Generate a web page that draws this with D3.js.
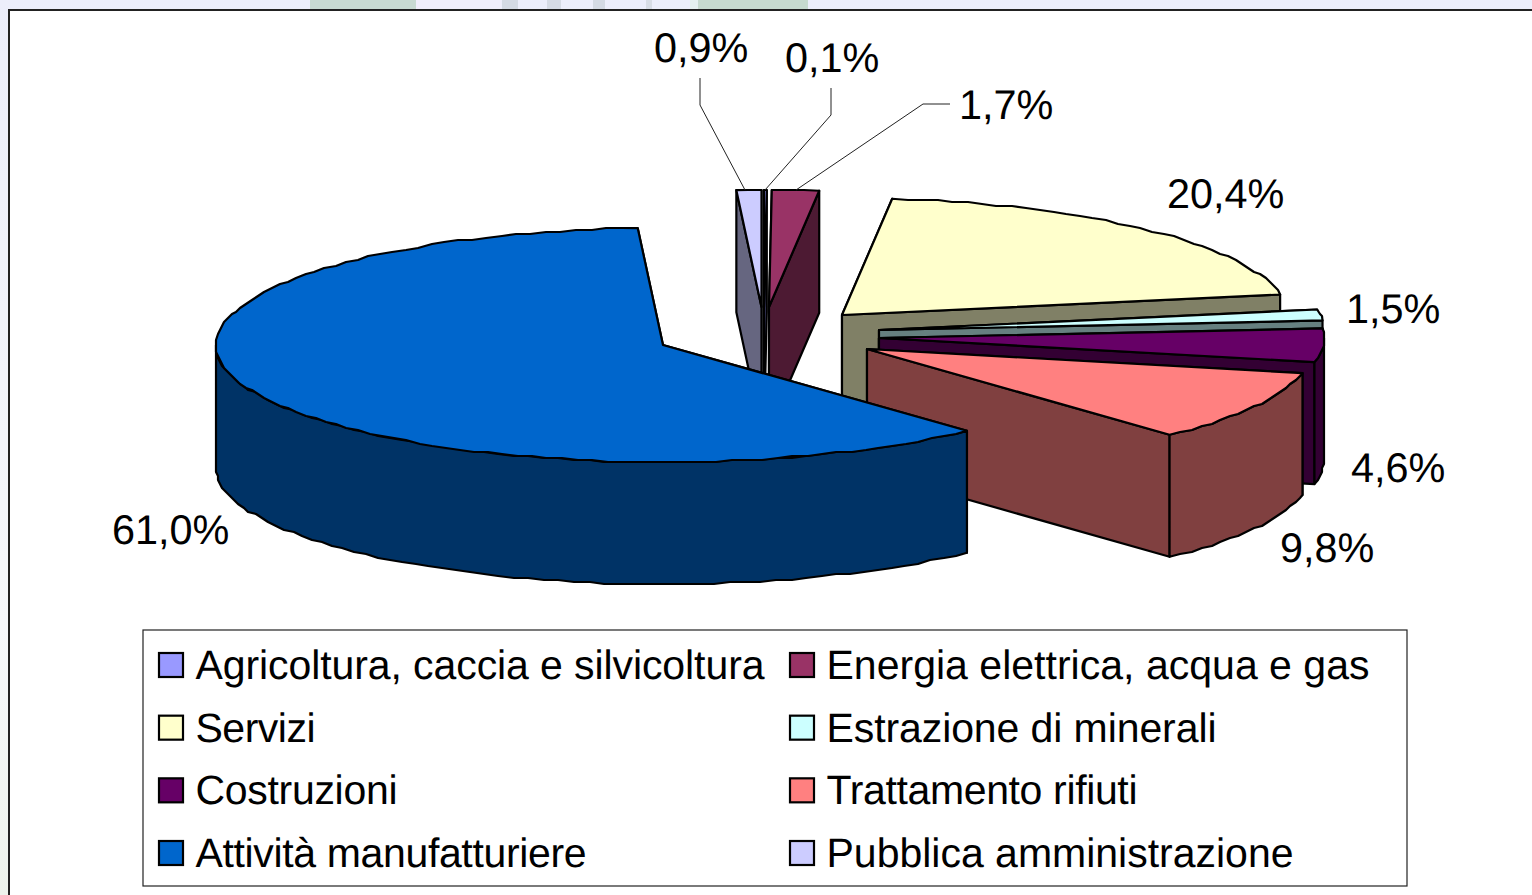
<!DOCTYPE html>
<html>
<head>
<meta charset="utf-8">
<title>Settori</title>
<script src="https://cdn.jsdelivr.net/npm/d3@7/dist/d3.min.js"></script>
<style>
    html, body { margin: 0; padding: 0; background: #fff; overflow: hidden; }
    svg { display: block; }
    text { font-family: "Liberation Sans", Arial, sans-serif; fill: #000; text-rendering: geometricPrecision; }
</style>
</head>
<body>
<div id="chart"></div>
<script>
// Chart data, in the order of the legend
const categories = [
    "Agricoltura, caccia e silvicoltura", "Energia elettrica, acqua e gas",
    "Servizi", "Estrazione di minerali",
    "Costruzioni", "Trattamento rifiuti",
    "Attività manufatturiere", "Pubblica amministrazione"
];
const percentages = [0.1, 1.7, 20.4, 1.5, 4.6, 9.8, 61.0, 0.9];
const sliceColors = ["#9999ff", "#993366", "#ffffcc", "#ccffff", "#660066", "#ff8080", "#0066cc", "#ccccff"];

// Layout of the exploded pie: where each slice's apex ended up
const apexX = [764, 769, 842, 879, 879, 867, 663, 761.5];
const apexY = [307, 307, 315, 330, 338, 349, 345, 307];
const radiusX = [445, 445, 445, 445, 445, 445, 447, 445];
// Back to front
const drawOrder = [2, 3, 4, 5, 7, 0, 1, 6];
// Label anchor (left edge, baseline)
const labelX = [785, 959, 1167, 1346, 1351, 1280, 112, 654];
const labelY = [72, 119, 208, 323, 482, 562, 544, 62];
// Legend text widths as set in the original
const legendWidths = [569, 543, 120, 390, 202, 311, 391, 467];

const width = 1532;
const height = 895;
const ry = 117;
const depth = 122;

const svg = d3.select("#chart").append("svg")
    .attr("width", width)
    .attr("height", height);

// Page background behind the chart frame
const defs = svg.append("defs");
const leftFade = defs.append("linearGradient")
    .attr("id", "leftFade")
    .attr("x1", 0).attr("y1", 0).attr("x2", 0).attr("y2", 1);
leftFade.append("stop").attr("offset", "0").attr("stop-color", "#eceefb");
leftFade.append("stop").attr("offset", "0.7").attr("stop-color", "#f6f8fb");
leftFade.append("stop").attr("offset", "1").attr("stop-color", "#eef3ec");

svg.append("rect").attr("width", width).attr("height", height).attr("fill", "url(#leftFade)");

// Bits of the slide's watermark peeking out on top
const stripX = [310, 416, 502, 547, 593, 646, 690, 698];
const stripW = [106, 85, 16, 14, 12, 6, 8, 110];
const stripColor = ["#c8dad2", "#f0eefb", "#d4dae4", "#d6dbe5", "#d4dae4", "#d8dde6", "#e4f0f0", "#c6dacf"];
stripX.forEach((x, i) => {
    svg.append("rect")
        .attr("x", x).attr("y", 0)
        .attr("width", stripW[i]).attr("height", 9)
        .attr("fill", stripColor[i]);
});

// Chart frame
svg.append("rect")
    .attr("x", 9).attr("y", 10)
    .attr("width", width).attr("height", height)
    .attr("fill", "#fff")
    .attr("stroke", "#222")
    .attr("stroke-width", 2);

const pie = d3.pie().sort(null).value(d => d)(percentages);

// Point on the projected rim of a slice
function rimPoint(i, angle, drop) {
    return [
        apexX[i] + radiusX[i] * Math.sin(angle),
        apexY[i] - ry * Math.cos(angle) + drop
    ];
}

// The rim is a polyline snapped to a grid, which gives the rough edge of the original
function rim(i, a0, a1, drop) {
    const step = 2 * Math.PI / 180;
    const n = Math.max(1, Math.round((a1 - a0) / step));
    return d3.range(n + 1).map(k => {
        const p = rimPoint(i, a0 + (a1 - a0) * k / n, drop);
        if (k === 0 || k === n) return p;
        return [Math.round(p[0] / 2) * 2, Math.round(p[1] / 2) * 2];
    });
}

function darker(color) {
    const c = d3.rgb(color);
    return d3.rgb(c.r / 2, c.g / 2, c.b / 2).formatHex();
}

const line = d3.line();
const pieGroup = svg.append("g").attr("stroke", "#000").attr("stroke-width", 2.2).attr("stroke-linejoin", "round");

function sideFace(g, i, angle, fill) {
    const apex = [apexX[i], apexY[i]];
    const outer = rimPoint(i, angle, 0);
    const pts = [apex, outer, [outer[0], outer[1] + depth], [apex[0], apex[1] + depth]];
    g.append("path").attr("d", line(pts) + "Z").attr("fill", fill);
}

drawOrder.forEach(i => {
    const d = pie[i];
    const g = pieGroup.append("g");
    const side = darker(sliceColors[i]);
    const mid = (d.startAngle + d.endAngle) / 2;

    // Radial faces: the hidden one goes first
    if (Math.sin(mid) < 0) {
        sideFace(g, i, d.endAngle, side);
        sideFace(g, i, d.startAngle, side);
    } else {
        sideFace(g, i, d.startAngle, side);
        sideFace(g, i, d.endAngle, side);
    }

    // Outer wall, only the front half of the ellipse shows
    const w0 = Math.max(d.startAngle, Math.PI / 2);
    const w1 = Math.min(d.endAngle, 3 * Math.PI / 2);
    if (w1 > w0) {
        const wall = rim(i, w0, w1, 0).concat(rim(i, w0, w1, depth).reverse());
        g.append("path").attr("d", line(wall) + "Z").attr("fill", side);
    }

    // Top face
    const top = [[apexX[i], apexY[i]]].concat(rim(i, d.startAngle, d.endAngle, 0));
    g.append("path").attr("d", line(top) + "Z").attr("fill", sliceColors[i]);
});

// Leader lines of the three small slices
const leaderX = [[700, 700, 745], [831, 831, 765], [950, 923, 796]];
const leaderY = [[78, 105, 190], [88, 115, 190], [104, 104, 190]];
leaderX.forEach((xs, k) => {
    svg.append("path")
        .attr("d", line(xs.map((x, j) => [x, leaderY[k][j]])))
        .attr("fill", "none")
        .attr("stroke", "#222")
        .attr("stroke-width", 1);
});

// Percent labels
const percentFormat = v => d3.format(".1f")(v).replace(".", ",") + "%";
svg.selectAll(".pct")
    .data(percentages)
    .enter().append("text")
    .attr("class", "pct")
    .attr("x", (d, i) => labelX[i])
    .attr("y", (d, i) => labelY[i])
    .attr("font-size", 41.4)
    .text(percentFormat);

// Legend
const legend = svg.append("g");
legend.append("rect")
    .attr("x", 143).attr("y", 630)
    .attr("width", 1264).attr("height", 256)
    .attr("fill", "#fff")
    .attr("stroke", "#222")
    .attr("stroke-width", 1.2);

const legendColumnX = d3.scalePoint().domain([0, 1]).range([159, 790]);
const legendRowY = d3.scalePoint().domain([0, 1, 2, 3]).range([665, 853]);

categories.forEach((name, i) => {
    const x = legendColumnX(i % 2);
    const y = legendRowY(Math.floor(i / 2));
    legend.append("rect")
        .attr("x", x).attr("y", y - 12)
        .attr("width", 24).attr("height", 24)
        .attr("fill", sliceColors[i])
        .attr("stroke", "#000")
        .attr("stroke-width", 2.2);
    legend.append("text")
        .attr("x", x + 36.5)
        .attr("y", y + 14)
        .attr("font-size", 41)
        .attr("textLength", legendWidths[i])
        .attr("lengthAdjust", "spacing")
        .text(name);
});
</script>
</body>
</html>
